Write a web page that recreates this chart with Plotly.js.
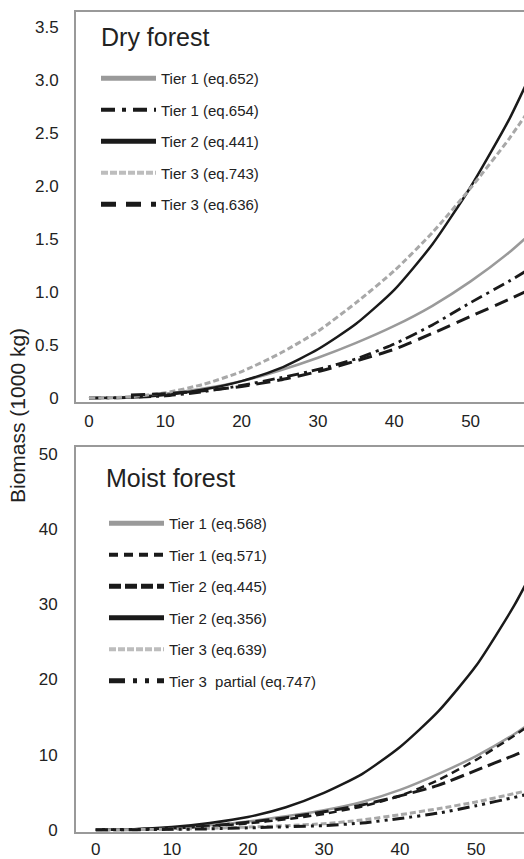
<!DOCTYPE html>
<html><head><meta charset="utf-8">
<script src="https://cdn.plot.ly/plotly-3.0.1.min.js"></script>
<style>html,body{margin:0;padding:0;background:#fff}#chart{width:524px;height:859px}</style>
</head><body><div id="chart"></div>
<script>
// ---- Dry forest (top panel) ----
const dryX = [0, 5, 10, 15, 20, 25, 30, 35, 40, 45, 50, 55, 58];
const dryTier1_652 = [0, 0.01, 0.04, 0.09, 0.16, 0.26, 0.38, 0.52, 0.68, 0.87, 1.10, 1.37, 1.56];
const dryTier1_654 = [0, 0.005, 0.02, 0.06, 0.12, 0.19, 0.27, 0.37, 0.51, 0.69, 0.90, 1.10, 1.23];
const dryTier2_441 = [0, 0.005, 0.03, 0.08, 0.16, 0.28, 0.46, 0.70, 1.02, 1.45, 1.99, 2.62, 3.07];
const dryTier3_743 = [0, 0.01, 0.05, 0.13, 0.25, 0.42, 0.63, 0.90, 1.20, 1.56, 1.98, 2.44, 2.75];
const dryX636 = [5.5, 10, 15, 20, 25, 30, 35, 40, 45, 50, 55, 58];
const dryTier3_636 = [0.03, 0.04, 0.07, 0.11, 0.17, 0.25, 0.35, 0.46, 0.61, 0.77, 0.93, 1.03];
const dryNames = ['Tier 1 (eq.652)', 'Tier 1 (eq.654)', 'Tier 2 (eq.441)', 'Tier 3 (eq.743)', 'Tier 3 (eq.636)'];

// ---- Moist forest (bottom panel) ----
const moistX = [0, 5, 10, 15, 20, 25, 30, 35, 40, 45, 50, 55, 58];
const moistTier1_568 = [0, 0.05, 0.25, 0.6, 1.1, 1.8, 2.6, 3.7, 5.3, 7.4, 9.8, 12.7, 14.8];
const moistTier1_571 = [0, 0.03, 0.18, 0.45, 0.85, 1.4, 2.1, 3.1, 4.5, 6.6, 9.3, 12.5, 14.6];
const moistTier2_445 = [0, 0.03, 0.2, 0.5, 1.0, 1.6, 2.4, 3.3, 4.5, 5.9, 7.9, 9.9, 11.2];
const moistTier2_356 = [0, 0.05, 0.35, 0.9, 1.7, 3.0, 4.9, 7.4, 11.0, 15.7, 21.8, 29.8, 35.5];
const moistTier3_639 = [0, 0.01, 0.08, 0.2, 0.35, 0.55, 0.8, 1.3, 2.0, 2.8, 3.7, 4.8, 5.5];
const moistTier3p_747 = [0, 0.01, 0.05, 0.12, 0.25, 0.4, 0.55, 0.9, 1.5, 2.2, 3.2, 4.3, 5.0];
const moistNames = ['Tier 1 (eq.568)', 'Tier 1 (eq.571)', 'Tier 2 (eq.445)', 'Tier 2 (eq.356)', 'Tier 3 (eq.639)', 'Tier 3  partial (eq.747)'];

const xTicks = [0, 10, 20, 30, 40, 50];
const dryYTicks = [0, 0.5, 1.0, 1.5, 2.0, 2.5, 3.0, 3.5];
const dryYText = ['0', '0.5', '1.0', '1.5', '2.0', '2.5', '3.0', '3.5'];
const moistYTicks = [0, 10, 20, 30, 40, 50];

const GRAY = '#9a9a9a', LGRAY = '#a8a8a8', LEGLGRAY = '#bdbdbd', BLACK = '#1a1a1a';
const W = 524, H = 859;

// real curve (not in legend)
function tr(x, y, color, dash, width, xa, ya) {
  return {x: x, y: y, type: 'scatter', mode: 'lines', showlegend: false,
    line: {color: color, dash: dash, width: width, shape: 'spline', smoothing: 0.6},
    xaxis: xa, yaxis: ya, hoverinfo: 'skip'};
}
// legend key only (thicker sample, no data drawn)
function key(name, color, dash, width, xa, ya, leg, i) {
  return {x: [null], y: [null], name: name, type: 'scatter', mode: 'lines', showlegend: true,
    line: {color: color, dash: dash, width: width},
    xaxis: xa, yaxis: ya, legend: leg, legendgroup: leg + i, hoverinfo: 'skip'};
}

const data = [
  tr(dryX, dryTier1_652, GRAY, 'solid', 2.5, 'x', 'y'),
  tr(dryX, dryTier1_654, BLACK, '12px,5px,3px,5px', 2.8, 'x', 'y'),
  tr(dryX, dryTier2_441, BLACK, 'solid', 2.5, 'x', 'y'),
  tr(dryX, dryTier3_743, LGRAY, '6px,3px', 3, 'x', 'y'),
  tr(dryX636, dryTier3_636, BLACK, '14px,7px', 3, 'x', 'y'),
  tr(moistX, moistTier1_568, GRAY, 'solid', 2.5, 'x2', 'y2'),
  tr(moistX, moistTier1_571, BLACK, '8px,5px', 2.5, 'x2', 'y2'),
  tr(moistX, moistTier2_445, BLACK, '14px,6px', 3, 'x2', 'y2'),
  tr(moistX, moistTier2_356, BLACK, 'solid', 2.5, 'x2', 'y2'),
  tr(moistX, moistTier3_639, LGRAY, '6px,3px', 3, 'x2', 'y2'),
  tr(moistX, moistTier3p_747, BLACK, '12px,5px,3px,5px,3px,5px', 3, 'x2', 'y2'),

  key(dryNames[0], GRAY, 'solid', 5, 'x', 'y', 'legend', 0),
  key(dryNames[1], BLACK, '14px,7px,4px,7px', 4, 'x', 'y', 'legend', 1),
  key(dryNames[2], BLACK, 'solid', 5, 'x', 'y', 'legend', 2),
  key(dryNames[3], LEGLGRAY, '7px,2px', 4, 'x', 'y', 'legend', 3),
  key(dryNames[4], BLACK, '15px,10px', 5, 'x', 'y', 'legend', 4),
  key(moistNames[0], GRAY, 'solid', 5, 'x2', 'y2', 'legend2', 0),
  key(moistNames[1], BLACK, '9px,6px', 4, 'x2', 'y2', 'legend2', 1),
  key(moistNames[2], BLACK, '12px,4px', 5, 'x2', 'y2', 'legend2', 2),
  key(moistNames[3], BLACK, 'solid', 5, 'x2', 'y2', 'legend2', 3),
  key(moistNames[4], LEGLGRAY, '7px,2px', 4, 'x2', 'y2', 'legend2', 4),
  key(moistNames[5], BLACK, '16px,8px,4px,8px,4px,8px', 5, 'x2', 'y2', 'legend2', 5)
];

const FONT = 'Liberation Sans, Arial, Helvetica, sans-serif';
const axisCommon = {showline: true, linecolor: '#999', linewidth: 2, showgrid: false, zeroline: false,
  ticks: '', tickfont: {size: 17, color: '#222'}, fixedrange: true};

const L = 76, T = 12, B = 27;
const PH = H - T - B;
function yd(px) { return (H - B - px) / PH; }

const legendCommon = {xref: 'container', yref: 'container', xanchor: 'left', yanchor: 'top',
  bgcolor: 'rgba(0,0,0,0)', font: {size: 15, color: '#222', family: FONT}, tracegroupgap: 9, itemwidth: 55};

const layout = {
  width: W, height: H, paper_bgcolor: '#fff', plot_bgcolor: '#fff',
  font: {family: FONT, color: '#222'},
  margin: {l: L, r: 0, t: T, b: B, autoexpand: false},
  showlegend: true,
  xaxis: Object.assign({}, axisCommon, {domain: [0, 1], range: [-1.7, 57.0], tickvals: xTicks, mirror: true, anchor: 'y', ticklabelstandoff: 3}),
  yaxis: Object.assign({}, axisCommon, {domain: [yd(402), 1], range: [-0.037, 3.64], tickvals: dryYTicks, ticktext: dryYText, anchor: 'x', ticklabelstandoff: 12}),
  xaxis2: Object.assign({}, axisCommon, {domain: [0, 1], range: [-2.6, 56.3], tickvals: xTicks, mirror: true, anchor: 'y2', ticklabelstandoff: 1}),
  yaxis2: Object.assign({}, axisCommon, {domain: [0, yd(447)], range: [-0.3, 50.9], tickvals: moistYTicks, anchor: 'x2', ticklabelstandoff: 13}),
  legend: Object.assign({}, legendCommon, {x: 96 / W, y: 1 - 62 / H}),
  legend2: Object.assign({}, legendCommon, {x: 104 / W, y: 1 - 507 / H}),
  annotations: [
    {text: 'Dry forest', xref: 'paper', yref: 'paper', x: (99 - L) / (W - L), y: yd(37), xanchor: 'left', yanchor: 'middle', showarrow: false, font: {size: 25, color: '#222'}},
    {text: 'Moist forest', xref: 'paper', yref: 'paper', x: (104 - L) / (W - L), y: yd(478), xanchor: 'left', yanchor: 'middle', showarrow: false, font: {size: 25, color: '#222'}},
    {text: 'Biomass (1000 kg)', xref: 'paper', yref: 'paper', x: (17 - L) / (W - L), y: yd(416), xanchor: 'center', yanchor: 'middle', textangle: -90, showarrow: false, font: {size: 21, color: '#222'}}
  ]
};

Plotly.newPlot('chart', data, layout, {displayModeBar: false, staticPlot: true});
</script>
</body></html>
